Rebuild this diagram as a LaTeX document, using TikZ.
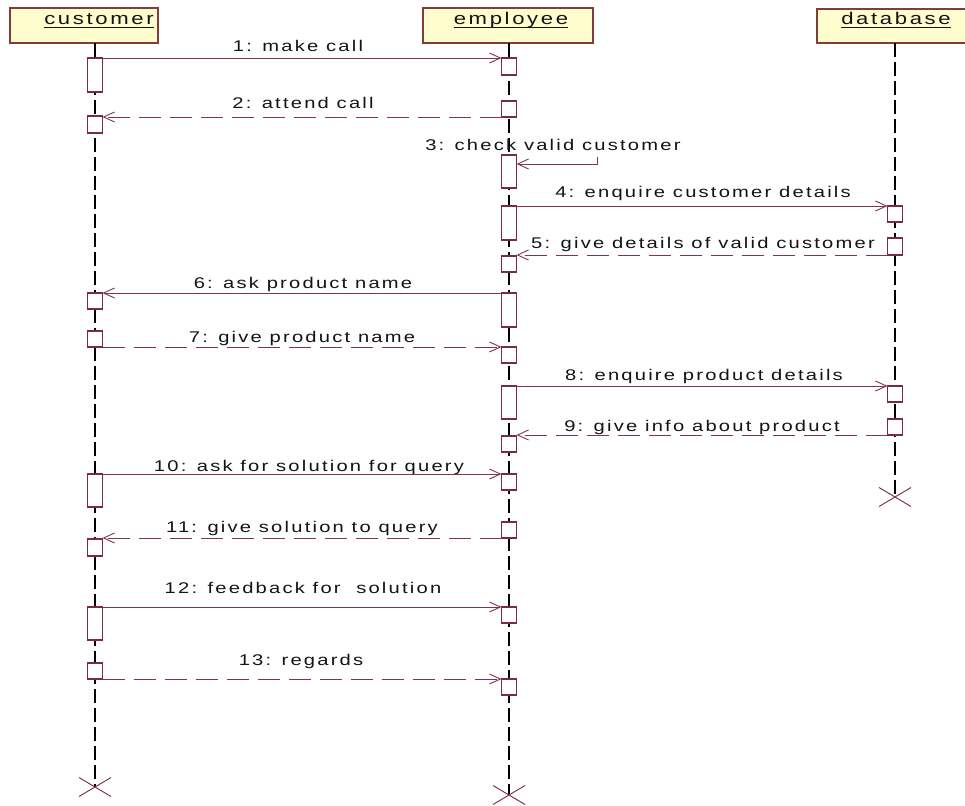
\documentclass[tikz,border=0pt]{standalone}
\usepackage{fontspec}
\setmainfont{Liberation Sans}
\newfontfamily\lblfont[LetterSpace=11]{Liberation Sans}
\newfontfamily\hdrfont[LetterSpace=12]{Liberation Sans}
\usetikzlibrary{arrows.meta}
\definecolor{boxc}{RGB}{122,42,66}
\definecolor{msgc}{RGB}{128,52,84}
\definecolor{hdrfill}{RGB}{255,253,206}
\definecolor{hdrline}{RGB}{130,60,60}
\definecolor{txt}{RGB}{20,20,20}

\begin{document}
\begin{tikzpicture}[x=1pt,y=-1pt,
  lifeline/.style={draw=black,line width=1.9pt,dash pattern=on 14pt off 5pt},
  actbox/.style={draw=boxc,fill=white,line width=1.3pt,minimum width=15pt,inner sep=0pt,outer sep=0pt,anchor=north},
  hdr/.style={draw=hdrline,fill=hdrfill,line width=1.3pt,inner sep=0pt,outer sep=0pt,anchor=north west},
  hdrtext/.style={font=\hdrfont\fontsize{17}{20}\selectfont,text=txt,inner sep=0pt,xscale=1.3,anchor=base},
  msgtext/.style={font=\lblfont\fontsize{15.5}{18}\selectfont,text=txt,inner sep=0pt,xscale=1.3,anchor=base},
  msg/.style={draw=msgc,line width=0.9pt,-{Straight Barb[length=11pt,width=10pt]}},
  reply/.style={msg,dash pattern=on 22pt off 9pt},
  endmark/.style={draw=boxc,line width=0.9pt}]

\useasboundingbox (0,0) rectangle (965,805);
\clip (0,0) rectangle (965,805);
\fill[white] (0,0) rectangle (965,805);

% object headers
\node[hdr,minimum width=148pt,minimum height=35pt] (hc) at (10,8) {};
\node[hdr,minimum width=170pt,minimum height=35pt] (he) at (423,8) {};
\node[hdr,minimum width=156pt,minimum height=34pt] (hd) at (817,9) {};
\node[hdrtext] (tc) at (99,25) {customer};
\node[hdrtext] (te) at (511,25) {employee};
\node[hdrtext] (td) at (896,25) {database};
\foreach \t in {tc,te,td}
  \draw[txt,line width=0.9pt] ([yshift=-2.5pt]\t.base west) -- ([yshift=-2.5pt]\t.base east);

% lifeline ends
\coordinate (xc) at (95,787);
\coordinate (xe) at (509,795);
\coordinate (xd) at (895,497);

% lifelines
\draw[lifeline] (hc.south -| xc) -- (xc);
\draw[lifeline] (he.south -| xe) -- (xe);
\draw[lifeline] (hd.south -| xd) -- (xd);

% activations: customer
\node[actbox,minimum height=34pt] (a1) at (95,58) {};
\node[actbox,minimum height=17pt] (a2) at (95,116) {};
\node[actbox,minimum height=16pt] (a3) at (95,293) {};
\node[actbox,minimum height=16pt] (a4) at (95,331) {};
\node[actbox,minimum height=33pt] (a5) at (95,474) {};
\node[actbox,minimum height=17pt] (a6) at (95,539) {};
\node[actbox,minimum height=33pt] (a7) at (95,607) {};
\node[actbox,minimum height=16pt] (a8) at (95,663) {};

% activations: employee
\node[actbox,minimum height=17pt] (e1) at (509,58) {};
\node[actbox,minimum height=16pt] (e2) at (509,101) {};
\node[actbox,minimum height=33pt] (e3) at (509,155) {};
\node[actbox,minimum height=34pt] (e4) at (509,206) {};
\node[actbox,minimum height=16pt] (e5) at (509,256) {};
\node[actbox,minimum height=34pt] (e6) at (509,293) {};
\node[actbox,minimum height=16pt] (e7) at (509,347) {};
\node[actbox,minimum height=33pt] (e8) at (509,386) {};
\node[actbox,minimum height=16pt] (e9) at (509,436) {};
\node[actbox,minimum height=16pt] (e10) at (509,474) {};
\node[actbox,minimum height=16pt] (e11) at (509,522) {};
\node[actbox,minimum height=16pt] (e12) at (509,607) {};
\node[actbox,minimum height=16pt] (e13) at (509,679) {};

% activations: database
\node[actbox,minimum height=16pt] (d1) at (895,206) {};
\node[actbox,minimum height=17pt] (d2) at (895,238) {};
\node[actbox,minimum height=16pt] (d3) at (895,386) {};
\node[actbox,minimum height=16pt] (d4) at (895,419) {};

% destruction marks
\foreach \p in {xc,xe,xd}
  \draw[endmark] (\p) +(-16,-9.5) -- +(16,9.5) (\p) +(-16,9.5) -- +(16,-9.5);

% messages
\draw[msg] (a1.north east) -- (a1.north east -| e1.west);
\draw[reply] (e2.south west) -- (e2.south west -| a2.east);
\coordinate (s3a) at (597,157);
\coordinate (s3b) at (597,164);
\draw[msg] (s3a) -- (s3b) -- (s3b -| e3.east);
\draw[msg] (e4.north east) -- (e4.north east -| d1.west);
\draw[reply] (d2.south west) -- (d2.south west -| e5.east);
\draw[msg] (e6.north west) -- (e6.north west -| a3.east);
\draw[reply] (a4.south east) -- (a4.south east -| e7.west);
\draw[msg] (e8.north east) -- (e8.north east -| d3.west);
\draw[reply] (d4.south west) -- (d4.south west -| e9.east);
\draw[msg] (a5.north east) -- (a5.north east -| e10.west);
\draw[reply] (e11.south west) -- (e11.south west -| a6.east);
\draw[msg] (a7.north east) -- (a7.north east -| e12.west);
\draw[reply] (a8.south east) -- (a8.south east -| e13.west);

% message labels
\node[msgtext] (m1) at (298,52) {1: make call};
\node[msgtext] (m2) at (303,109) {2: attend call};
\node[msgtext,anchor=base west] (m3) at (425,150) {3: check valid customer};
\node[msgtext] (m4) at (703,197) {4: enquire customer details};
\node[msgtext] (m5) at (703,248) {5: give details of valid customer};
\node[msgtext] (m6) at (303,288) {6: ask product name};
\node[msgtext] (m7) at (302,342) {7: give product name};
\node[msgtext] (m8) at (704,380) {8: enquire product details};
\node[msgtext] (m9) at (702,431) {9: give info about product};
\node[msgtext] (m10) at (309,471) {10: ask for solution for query};
\node[msgtext] (m11) at (302,532) {11: give solution to query};
\node[msgtext] (m12) at (303,593) {12: feedback for\ \ solution};
\node[msgtext] (m13) at (301,665) {13: regards};
\end{tikzpicture}
\end{document}
